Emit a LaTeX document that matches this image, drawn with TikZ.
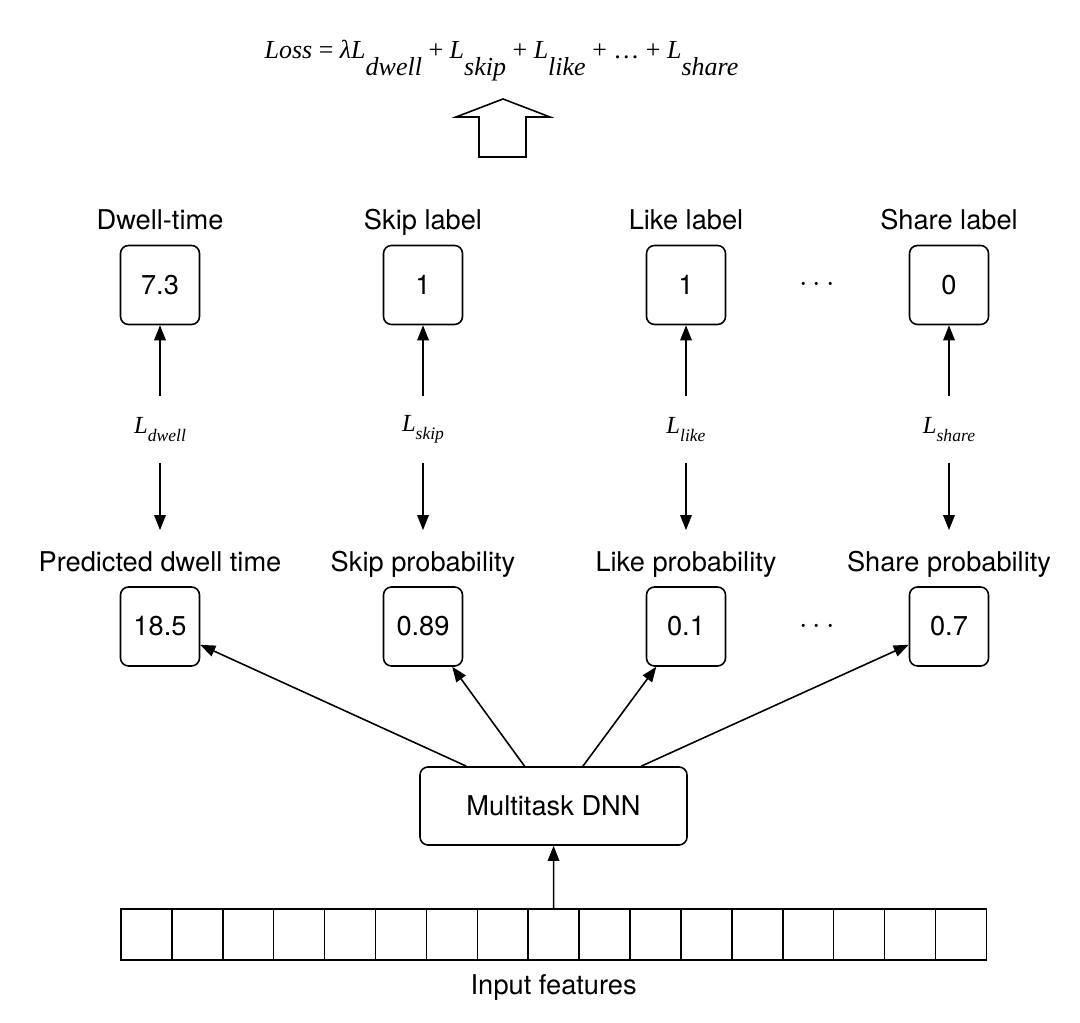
\documentclass[tikz,border=0pt]{standalone}
\usepackage{fontspec}
\setmainfont{TeX Gyre Heros}
\newfontfamily\timesfont{Liberation Serif}
\usetikzlibrary{positioning,arrows.meta}

\newcommand{\lo}[1]{\raisebox{-0.35cm}{\textit{#1}}}
\newcommand{\Lsub}[1]{{\timesfont\itshape\fontsize{14}{16}\selectfont L\raisebox{-0.17cm}{\fontsize{10}{12}\selectfont #1}}}

\tikzset{
  val/.style={draw, rounded corners=0.16cm, minimum size=1.58cm, inner sep=0},
  lbl/.style={inner sep=0, text height=0.39cm, text depth=0.1cm},
  lossl/.style={inner sep=0, minimum height=1.3cm},
  cell/.style={draw, minimum size=1.018cm, inner sep=0},
  dots/.style={font=\fontsize{19}{20}\selectfont}
}

\begin{document}
\begin{tikzpicture}[node distance=0.18cm, line width=0.9pt, font=\fontsize{15.5}{18}\selectfont,
    >={Triangle[length=0.3cm,width=0.23cm]}]
  \useasboundingbox (0,0) rectangle (21.6,20.44);

  \node[anchor=base] (loss) at (10.03,19.27) {\timesfont\fontsize{14.8}{17}\selectfont
    \textit{Loss} = \textit{λL}\lo{dwell} + \textit{L}\lo{skip} + \textit{L}\lo{like} + … + \textit{L}\lo{share}};
  \draw (9.58,17.3) -- (9.58,18.1) -- (9.12,18.1) -- (10.06,18.46) -- (11,18.1)
    -- (10.52,18.1) -- (10.52,17.3) -- cycle;

  \node[val] (dw) at (3.2,14.74) {7.3};
  \node[val] (sk) at (8.46,14.74) {1};
  \node[val] (lk) at (13.72,14.74) {1};
  \node[val] (sh) at (18.98,14.74) {0};
  \node[dots] at (16.34,14.74) {$\cdots$};
  \node[lbl, above=of dw] {Dwell-time};
  \node[lbl, above=of sk] {Skip label};
  \node[lbl, above=of lk] {Like label};
  \node[lbl, above=of sh] {Share label};

  \node[lossl] (Ldw) at (3.2,11.85) {\Lsub{dwell}};
  \node[lossl] (Lsk) at (8.46,11.85) {\Lsub{skip}};
  \node[lossl] (Llk) at (13.72,11.85) {\Lsub{like}};
  \node[lossl] (Lsh) at (18.98,11.85) {\Lsub{share}};

  \node[val] (pdw) at (3.2,7.91) {18.5};
  \node[val] (psk) at (8.46,7.91) {0.89};
  \node[val] (plk) at (13.72,7.91) {0.1};
  \node[val] (psh) at (18.98,7.91) {0.7};
  \node[dots] at (16.34,7.91) {$\cdots$};
  \node[lbl, above=of pdw] (pdw-t) {Predicted dwell time};
  \node[lbl, above=of psk] (psk-t) {Skip probability};
  \node[lbl, above=of plk] (plk-t) {Like probability};
  \node[lbl, above=of psh] (psh-t) {Share probability};

  \node[draw, rounded corners=0.16cm, minimum width=5.34cm, minimum height=1.56cm] (dnn)
    at (11.07,4.32) {Multitask DNN};

  \foreach \i in {1,...,17}
    \node[cell] (in\i) at ({2.929+(\i-1)*1.018},1.75) {};
  \node[lbl, below=0.26cm of in9] {Input features};

  \path[->]
    (Ldw) edge (dw)
    (Lsk) edge (sk)
    (Llk) edge (lk)
    (Lsh) edge (sh)
    (Ldw) edge[shorten >=0.42cm] (pdw-t)
    (Lsk) edge[shorten >=0.42cm] (psk-t)
    (Llk) edge[shorten >=0.42cm] (plk-t)
    (Lsh) edge[shorten >=0.42cm] (psh-t)
    (dnn) edge (pdw)
    (dnn) edge (psk)
    (dnn) edge (plk)
    (dnn) edge (psh)
    (in9) edge (dnn);
\end{tikzpicture}
\end{document}
